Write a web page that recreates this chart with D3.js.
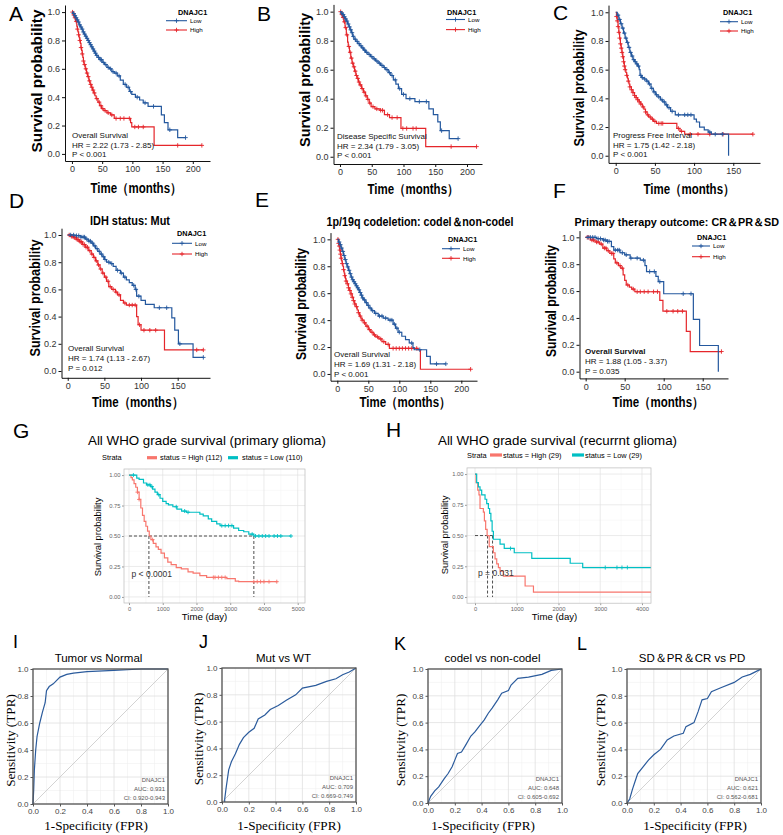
<!DOCTYPE html>
<html><head><meta charset="utf-8">
<script src="https://cdn.jsdelivr.net/npm/d3@7"></script>
<style>body{margin:0;background:#fff}svg{display:block}</style>
</head><body><script>
// ===================== DATA =====================
// Kaplan-Meier step curves: [time, survival]; censor times
const A_low=[[0,1],[2,0.99],[4,0.975],[6,0.96],[8,0.945],[10,0.93],[12,0.91],[14,0.895],[16,0.88],[18,0.86],[20,0.845],[22,0.83],[24,0.815],[26,0.8],[28,0.785],[30,0.77],[32,0.755],[34,0.74],[36,0.725],[38,0.71],[40,0.695],[43,0.68],[46,0.665],[50,0.645],[54,0.63],[58,0.61],[62,0.6],[66,0.58],[70,0.57],[75,0.55],[80,0.52],[85,0.49],[90,0.47],[95,0.44],[99,0.42],[105,0.4],[112,0.38],[118,0.36],[126,0.335],[148,0.275],[153,0.22],[159,0.17],[175,0.115],[188,0.115]];
const A_lowC=[3,5,7,9,11,13,15,17,19,21,23,25,27,29,31,33,35,37,39,41,44,47,49,52,56,60,64,68,73,78,88,93,97,108,121,135,162,188];
const A_high=[[0,1],[2,0.98],[4,0.96],[6,0.935],[8,0.9],[9,0.88],[10,0.86],[11,0.84],[12,0.82],[13,0.8],[14,0.78],[15,0.75],[16,0.73],[17,0.705],[18,0.68],[19,0.655],[20,0.63],[22,0.6],[24,0.57],[26,0.545],[28,0.515],[30,0.49],[32,0.47],[34,0.45],[36,0.43],[38,0.41],[40,0.39],[43,0.365],[46,0.34],[49,0.32],[53,0.305],[58,0.29],[64,0.275],[70,0.25],[97,0.22],[99,0.19],[136,0.06],[215,0.06]];
const A_highC=[1,3,5,7,9,11,13,15,17,19,21,23,25,27,29,31,33,35,37,41,45,48,51,55,60,66,73,80,86,95,104,110,118,175,215];

const B_low=[[0,1],[2,0.99],[4,0.98],[6,0.965],[8,0.95],[10,0.935],[12,0.915],[14,0.895],[16,0.875],[18,0.855],[20,0.83],[22,0.81],[25,0.795],[28,0.78],[31,0.765],[34,0.75],[37,0.735],[40,0.72],[44,0.705],[48,0.69],[52,0.675],[56,0.66],[60,0.645],[64,0.63],[68,0.615],[72,0.6],[76,0.58],[80,0.56],[84,0.53],[88,0.5],[92,0.47],[97,0.43],[104,0.4],[118,0.38],[140,0.33],[147,0.29],[154,0.24],[158,0.18],[172,0.125],[186,0.125]];
const B_lowC=[3,5,7,9,11,13,15,17,19,21,24,27,30,33,36,39,42,46,50,54,58,62,66,70,74,78,82,87,94,100,110,125,136,160,186];
const B_high=[[0,1],[2,0.98],[4,0.96],[6,0.93],[8,0.89],[10,0.84],[12,0.79],[13,0.76],[15,0.72],[17,0.68],[19,0.645],[21,0.62],[23,0.59],[25,0.56],[27,0.54],[29,0.515],[31,0.495],[34,0.47],[37,0.445],[40,0.42],[43,0.395],[46,0.37],[49,0.345],[55,0.33],[63,0.32],[70,0.29],[78,0.27],[96,0.195],[135,0.07],[215,0.07]];
const B_highC=[1,3,5,7,9,11,14,16,18,20,22,24,26,28,30,32,35,38,41,44,47,52,58,64,67,75,82,90,99,105,115,120,175,215];

const C_low=[[0,1],[2,0.98],[4,0.95],[6,0.92],[8,0.89],[10,0.855],[12,0.82],[14,0.79],[16,0.755],[18,0.72],[20,0.695],[22,0.67],[24,0.655],[26,0.64],[28,0.625],[30,0.6],[31,0.56],[33,0.545],[36,0.535],[39,0.52],[42,0.5],[45,0.47],[48,0.445],[51,0.425],[54,0.41],[57,0.39],[60,0.375],[63,0.355],[66,0.335],[70,0.31],[76,0.285],[100,0.255],[103,0.235],[107,0.2],[113,0.18],[118,0.165],[122,0.15],[144,0],[144,0]];
const C_lowC=[3,5,7,9,11,13,15,17,19,21,23,25,27,29,32,34,37,40,43,46,49,52,55,59,62,65,68,72,80,88,92,96,120,127,136];
const C_high=[[0,1],[1,0.97],[2,0.94],[3,0.9],[4,0.86],[5,0.82],[6,0.78],[7,0.75],[8,0.72],[9,0.69],[10,0.655],[11,0.625],[12,0.6],[13,0.58],[14,0.56],[15,0.54],[16,0.52],[17,0.5],[18,0.48],[20,0.46],[22,0.44],[24,0.42],[26,0.405],[28,0.39],[30,0.375],[32,0.36],[34,0.34],[36,0.325],[38,0.305],[40,0.285],[42,0.27],[45,0.255],[48,0.24],[52,0.225],[78,0.19],[82,0.17],[88,0.15],[175,0.15]];
const C_highC=[1,2,3,4,5,6,7,8,9,10,11,12,14,16,18,20,22,24,26,28,30,32,35,38,41,44,47,50,55,58,60,80,84,95,105,120,137,175];

const D_low=[[0,1],[10,0.995],[18,0.985],[24,0.97],[28,0.955],[32,0.94],[35,0.92],[38,0.9],[41,0.88],[44,0.86],[47,0.84],[50,0.82],[53,0.8],[58,0.79],[62,0.77],[66,0.74],[72,0.72],[76,0.69],[80,0.67],[84,0.65],[88,0.63],[92,0.6],[94,0.55],[100,0.52],[106,0.49],[118,0.465],[142,0.39],[146,0.3],[151,0.2],[171,0.1],[185,0.1]];
const D_lowC=[4,8,12,15,18,21,23,26,29,31,34,37,40,43,46,49,51,56,60,68,73,78,90,93,97,125,135,153,185];
const D_high=[[0,1],[4,0.99],[8,0.98],[12,0.965],[16,0.95],[20,0.93],[24,0.91],[28,0.885],[32,0.86],[35,0.835],[38,0.81],[41,0.78],[44,0.75],[47,0.72],[50,0.69],[53,0.66],[56,0.62],[60,0.6],[65,0.58],[68,0.56],[72,0.52],[76,0.5],[80,0.485],[94,0.4],[96,0.34],[100,0.3],[132,0.155],[185,0.155]];
const D_highC=[2,5,7,9,11,13,15,17,19,21,23,25,27,30,33,36,39,42,45,48,52,55,58,62,66,70,78,84,88,92,98,104,112,120,176,185];

const E_low=[[0,1],[2,0.98],[4,0.96],[6,0.935],[8,0.91],[10,0.88],[12,0.85],[14,0.82],[16,0.795],[18,0.77],[20,0.745],[22,0.72],[24,0.7],[26,0.685],[28,0.67],[30,0.655],[32,0.64],[34,0.625],[36,0.605],[38,0.585],[40,0.565],[42,0.55],[45,0.53],[48,0.51],[51,0.49],[55,0.47],[60,0.45],[66,0.43],[74,0.415],[82,0.4],[90,0.37],[94,0.34],[98,0.31],[104,0.28],[110,0.255],[116,0.23],[122,0.195],[124,0.18],[144,0.13],[150,0.075],[175,0.075]];
const E_lowC=[3,5,7,9,11,13,15,17,19,21,23,25,27,29,31,33,35,37,39,41,44,47,50,53,57,62,68,72,78,85,88,92,96,100,120,133,160,175];
const E_high=[[0,1],[2,0.97],[3,0.95],[4,0.92],[5,0.89],[6,0.86],[7,0.84],[8,0.82],[9,0.8],[10,0.775],[11,0.75],[12,0.73],[13,0.71],[14,0.69],[16,0.67],[18,0.64],[20,0.62],[22,0.595],[24,0.57],[26,0.545],[28,0.52],[30,0.5],[32,0.475],[34,0.455],[36,0.43],[38,0.415],[40,0.4],[43,0.38],[46,0.355],[50,0.33],[54,0.31],[58,0.29],[62,0.275],[67,0.26],[72,0.24],[78,0.22],[84,0.19],[130,0.18],[134,0.035],[215,0.035]];
const E_highC=[1,2,3,4,5,6,8,10,12,14,16,18,20,22,24,26,28,31,34,37,40,44,48,52,56,60,65,70,75,82,90,95,100,105,110,115,120,128,215];

const F_low=[[0,1],[14,0.99],[22,0.98],[27,0.97],[33,0.93],[36,0.905],[44,0.885],[50,0.87],[57,0.845],[70,0.83],[76,0.79],[78,0.745],[90,0.71],[93,0.67],[100,0.58],[138,0.39],[146,0.195],[170,0],[170,0]];
const F_lowC=[3,6,9,12,16,19,23,25,28,30,38,41,43,47,52,58,66,74,82,88,95,125,135];
const F_high=[[0,1],[6,0.98],[12,0.965],[18,0.95],[22,0.92],[27,0.9],[31,0.88],[36,0.84],[38,0.81],[42,0.79],[45,0.77],[48,0.72],[50,0.68],[52,0.645],[56,0.63],[59,0.615],[63,0.595],[95,0.53],[99,0.45],[129,0.3],[134,0.15],[174,0.15]];
const F_highC=[2,4,8,10,14,16,20,24,26,29,33,35,40,44,47,54,61,66,70,75,80,87,92,104,112,118,124,174];

// WHO grade survival (days)
const G_high=[[0,1],[60,0.98],[100,0.96],[150,0.93],[200,0.9],[250,0.86],[300,0.8],[350,0.73],[400,0.67],[450,0.62],[500,0.58],[550,0.54],[600,0.5],[650,0.47],[720,0.44],[800,0.41],[870,0.39],[950,0.36],[1050,0.32],[1150,0.285],[1250,0.265],[1400,0.24],[1550,0.23],[1750,0.205],[1900,0.195],[2100,0.175],[2300,0.16],[2900,0.15],[3150,0.13],[3250,0.125],[4400,0.125]];
const G_highC=[250,300,700,2500,2550,2650,2750,2850,3700,3800,3900,4000,4150,4380];
const G_low=[[0,1],[230,0.975],[300,0.965],[430,0.935],[520,0.92],[640,0.905],[700,0.885],[770,0.86],[840,0.84],[920,0.81],[1000,0.785],[1100,0.765],[1170,0.755],[1300,0.74],[1420,0.72],[1560,0.705],[1700,0.695],[2100,0.68],[2200,0.665],[2350,0.64],[2450,0.62],[2600,0.6],[2700,0.585],[3100,0.565],[3250,0.545],[3400,0.535],[3550,0.515],[3700,0.5],[4800,0.5]];
const G_lowC=[130,560,620,680,880,1400,1650,1750,2750,2850,2950,3050,3650,3750,3850,3950,4050,4150,4300,4400,4500,4800];
const G_medians=[590,3700];
const H_high=[[0,1],[25,0.93],[65,0.87],[95,0.83],[120,0.72],[200,0.69],[225,0.62],[255,0.55],[290,0.5],[340,0.41],[440,0.36],[480,0.31],[520,0.27],[560,0.24],[600,0.21],[680,0.17],[1200,0.09],[1400,0.04],[4300,0.04]];
const H_highC=[];
const H_low=[[0,1],[40,0.93],[80,0.895],[120,0.87],[160,0.83],[240,0.795],[280,0.76],[320,0.72],[350,0.68],[380,0.62],[410,0.535],[440,0.47],[600,0.43],[700,0.395],[940,0.36],[1360,0.315],[2280,0.275],[2580,0.24],[4300,0.24]];
const H_lowC=[850,3120,3400,3520,3650];
const H_medians=[300,420];

// ROC curves: [FPR, TPR]
const rocI=[[0,0],[0.005,0.1],[0.01,0.25],[0.02,0.4],[0.03,0.5],[0.05,0.6],[0.07,0.68],[0.09,0.75],[0.1,0.84],[0.12,0.87],[0.15,0.89],[0.2,0.94],[0.25,0.96],[0.3,0.97],[0.4,0.98],[0.6,0.99],[0.8,1.0],[1,1]];
const rocJ=[[0.02,0],[0.02,0.02],[0.03,0.1],[0.04,0.17],[0.05,0.24],[0.07,0.3],[0.1,0.36],[0.13,0.43],[0.16,0.48],[0.2,0.52],[0.24,0.55],[0.27,0.62],[0.32,0.65],[0.36,0.69],[0.42,0.72],[0.48,0.76],[0.55,0.8],[0.6,0.85],[0.7,0.87],[0.78,0.9],[0.85,0.92],[0.9,0.95],[0.95,0.97],[1,1]];
const rocK=[[0,0],[0.02,0.05],[0.05,0.09],[0.08,0.12],[0.12,0.18],[0.15,0.22],[0.18,0.27],[0.2,0.32],[0.22,0.37],[0.25,0.38],[0.28,0.43],[0.32,0.5],[0.35,0.53],[0.38,0.57],[0.42,0.62],[0.45,0.67],[0.48,0.71],[0.52,0.77],[0.55,0.82],[0.6,0.84],[0.62,0.88],[0.67,0.93],[0.75,0.94],[0.85,0.96],[0.92,0.99],[1,1]];
const rocL=[[0,0],[0.02,0.03],[0.04,0.1],[0.06,0.16],[0.08,0.22],[0.12,0.27],[0.16,0.32],[0.2,0.36],[0.25,0.4],[0.3,0.47],[0.35,0.5],[0.42,0.52],[0.44,0.57],[0.5,0.6],[0.53,0.68],[0.56,0.77],[0.6,0.78],[0.63,0.83],[0.7,0.86],[0.8,0.9],[0.86,0.94],[0.92,0.96],[0.98,0.99],[1,1]];

// Tick labels / text
const kmYTicks=[0,0.2,0.4,0.6,0.8,1.0];
const groupLabels=["Low","High"];
const rocTicks=[0,0.2,0.4,0.6,0.8,1.0];

// ===================== DRAW =====================
const SANS='"Liberation Sans", Arial, Helvetica, sans-serif';
const SERIF='"Liberation Serif", "Times New Roman", serif';
const BLUE="#24589e", RED="#e5262b", SAL="#F8766D", TEAL="#00BFC4";
const svg=d3.select("body").append("svg").attr("width",783).attr("height",835).style("font-family",SANS);
let clipId=0;

function stepAt(curve,t){let s=curve[0][1];for(const p of curve){if(p[0]<=t)s=p[1];else break;}return s;}
function txt(g,x,y,s,o={}){const t=g.append("text").attr("x",x).attr("y",y).text(s).attr("font-size",o.size||10).attr("fill",o.fill||"#000");
  if(o.anchor)t.attr("text-anchor",o.anchor); if(o.weight)t.attr("font-weight",o.weight); if(o.family)t.attr("font-family",o.family);
  if(o.len)t.attr("textLength",o.len).attr("lengthAdjust","spacingAndGlyphs"); if(o.rot)t.attr("transform",`rotate(-90,${x},${y})`); return t;}
function cross(g,x,y,r,col,w){g.append("path").attr("d",`M${x-r},${y}h${2*r}M${x},${y-r}v${2*r}`).attr("stroke",col).attr("stroke-width",w||1).attr("fill","none");}

function drawKM(c){
  const g=svg.append("g");
  const x=d3.scaleLinear().domain(c.xDom).range([c.l,c.r]);
  const y=d3.scaleLinear().domain([-0.05,1.05]).range([c.b,c.t]);
  const xa=g.append("g").attr("transform",`translate(0,${c.b})`).call(d3.axisBottom(x).tickValues(c.xTicks).tickSize(3).tickPadding(2).tickSizeOuter(0));
  const ya=g.append("g").attr("transform",`translate(${c.l},0)`).call(d3.axisLeft(y).tickValues(kmYTicks).tickFormat(d3.format(".1f")).tickSize(3).tickPadding(2).tickSizeOuter(0));
  [xa,ya].forEach(a=>{a.select(".domain").attr("stroke","#111").attr("stroke-width",1);a.selectAll(".tick line").attr("stroke","#111");
    a.selectAll("text").attr("font-size",9).attr("fill","#333").attr("font-family",SANS);});
  const line=d3.line().x(d=>x(d[0])).y(d=>y(d[1])).curve(d3.curveStepAfter);
  [[c.high,c.highC,RED],[c.low,c.lowC,BLUE]].forEach(([cv,cc,col])=>{
    g.append("path").datum(cv).attr("d",line).attr("fill","none").attr("stroke",col).attr("stroke-width",1.2);
    cc.forEach(t=>cross(g,x(t),y(stepAt(cv,t)),2.2,col,0.9));
  });
  // legend
  const L=c.leg;
  txt(g,L.tx,L.ty+2.6,"DNAJC1",{size:7.3,weight:"bold"});
  [[L.y1,BLUE,groupLabels[0]],[L.y2,RED,groupLabels[1]]].forEach(([yy,col,lab])=>{
    g.append("line").attr("x1",L.lx).attr("x2",L.lx+L.lw).attr("y1",yy).attr("y2",yy).attr("stroke",col).attr("stroke-width",1.1);
    cross(g,L.lx+L.lw/2,yy,2.2,col,0.9);
    txt(g,L.lx+L.lw+3,yy+2.2,lab,{size:6.2});
  });
  // annotations
  c.ann.forEach((s,i)=>txt(g,c.ax,c.ay+i*c.adh,s,{size:8,fill:"#111",weight:(i===0&&c.annBold)?"bold":null}));
  // axis titles
  txt(g,c.xt[0],c.xt[1],"Time（months）",{size:14,weight:"bold",anchor:"middle",len:c.xt[2]});
  txt(g,c.yt[0],c.yt[1],"Survival probability",{size:14,weight:"bold",anchor:"middle",len:c.yt[2],rot:true});
  if(c.title) txt(g,c.title[1],c.title[2],c.title[0],{size:c.title[5]||12,weight:"bold",anchor:c.title[4]||"middle",len:c.title[3]});
  txt(svg,c.letter[1],c.letter[2],c.letter[0],{size:21});
}

drawKM({low:A_low,lowC:A_lowC,high:A_high,highC:A_highC,l:65,r:210,t:5,b:161,xDom:[-11.5,228.5],xTicks:[0,50,100,150,200],
  leg:{tx:178,ty:12,lx:166,lw:21,y1:20.7,y2:30},ann:["Overall Survival","HR = 2.22 (1.73 - 2.85)","P < 0.001"],ax:72,ay:138,adh:9.7,
  xt:[136,193,91],yt:[42,81,143],letter:["A",9,21]});
drawKM({low:B_low,lowC:B_lowC,high:B_high,highC:B_highC,l:333.5,r:482,t:4.4,b:164,xDom:[-10.2,223.6],xTicks:[0,50,100,150,200],
  leg:{tx:447,ty:12,lx:446,lw:19,y1:19.5,y2:29.6},ann:["Disease Specific Survival","HR = 2.34 (1.79 - 3.05)","P < 0.001"],ax:337,ay:139,adh:9.7,
  xt:[413,194,91],yt:[310,80,134],letter:["B",257,21]});
drawKM({low:C_low,lowC:C_lowC,high:C_high,highC:C_highC,l:608.5,r:760,t:5.1,b:162.9,xDom:[-9.2,184.1],xTicks:[0,50,100,150],
  leg:{tx:723,ty:12.3,lx:720,lw:18,y1:21.7,y2:31},ann:["Progress Free Interval","HR = 1.75 (1.42 - 2.18)","P < 0.001"],ax:613,ay:138,adh:9.7,
  xt:[689,194,91],yt:[584,88,117],letter:["C",553,20]});
drawKM({low:D_low,lowC:D_lowC,high:D_high,highC:D_highC,l:61.5,r:210,t:228.2,b:377.8,xDom:[-8.5,194.1],xTicks:[0,50,100,150],
  leg:{tx:177,ty:233,lx:172,lw:20,y1:243.3,y2:254},ann:["Overall Survival","HR = 1.74 (1.13 - 2.67)","P = 0.012"],ax:68,ay:351,adh:10,
  xt:[137.5,407,91],yt:[40,298,117],title:["IDH status: Mut",130,225,80],letter:["D",9,208]});
drawKM({low:E_low,lowC:E_lowC,high:E_high,highC:E_highC,l:330.5,r:477,t:232.6,b:380.7,xDom:[-11,225.3],xTicks:[0,50,100,150,200],
  leg:{tx:448,ty:239,lx:442,lw:18,y1:248.7,y2:258.3},ann:["Overall Survival","HR = 1.69 (1.31 - 2.18)","P < 0.001"],ax:334,ay:357,adh:9.8,
  xt:[405,407,91],yt:[306,304,112],title:["1p/19q codeletion: codel＆non-codel",420,226,187],letter:["E",255,207]});
drawKM({low:F_low,lowC:F_lowC,high:F_high,highC:F_highC,l:579.5,r:728,t:230.6,b:378.4,xDom:[-7.9,182.4],xTicks:[0,50,100,150],
  leg:{tx:697,ty:237.7,lx:692,lw:18,y1:246,y2:256.7},ann:["Overall Survival","HR = 1.88 (1.05 - 3.37)","P = 0.035"],ax:585,ay:354,adh:10,annBold:true,
  xt:[658,407,91],yt:[556,301,112],title:["Primary therapy outcome: CR＆PR＆SD",779,226,null,"end",10.8],letter:["F",553,198]});

function drawWHO(c){
  const g=svg.append("g");
  const x=d3.scaleLinear().domain(c.xDom).range([c.l,c.r]);
  const y=d3.scaleLinear().domain([-0.05,1.05]).range([c.b,c.t]);
  const id="clip"+(clipId++);
  svg.append("clipPath").attr("id",id).append("rect").attr("x",c.l).attr("y",c.t).attr("width",c.r-c.l).attr("height",c.b-c.t);
  const gridMinX=d3.range(500,c.xMax,1000), gridMajX=d3.range(0,c.xMax+1,1000);
  const yMaj=[0,0.25,0.5,0.75,1], yMin=[0.125,0.375,0.625,0.875];
  const gg=g.append("g").attr("clip-path",`url(#${id})`);
  gridMinX.forEach(v=>gg.append("line").attr("x1",x(v)).attr("x2",x(v)).attr("y1",c.t).attr("y2",c.b).attr("stroke","#f2f2f2").attr("stroke-width",0.5));
  yMin.forEach(v=>gg.append("line").attr("x1",c.l).attr("x2",c.r).attr("y1",y(v)).attr("y2",y(v)).attr("stroke","#f2f2f2").attr("stroke-width",0.5));
  gridMajX.forEach(v=>gg.append("line").attr("x1",x(v)).attr("x2",x(v)).attr("y1",c.t).attr("y2",c.b).attr("stroke","#e3e3e3").attr("stroke-width",0.7));
  yMaj.forEach(v=>gg.append("line").attr("x1",c.l).attr("x2",c.r).attr("y1",y(v)).attr("y2",y(v)).attr("stroke","#e3e3e3").attr("stroke-width",0.7));
  const xa=g.append("g").attr("transform",`translate(0,${c.b})`).call(d3.axisBottom(x).tickValues(gridMajX).tickFormat(d3.format("d")).tickSize(2).tickPadding(1.5).tickSizeOuter(0));
  const ya=g.append("g").attr("transform",`translate(${c.l},0)`).call(d3.axisLeft(y).tickValues(yMaj).tickFormat(d3.format(".2f")).tickSize(2).tickPadding(1.5).tickSizeOuter(0));
  [xa,ya].forEach(a=>{a.select(".domain").remove();a.selectAll(".tick line").attr("stroke","#999");
    a.selectAll("text").attr("font-size",5.8).attr("fill","#666").attr("font-family",SANS);});
  const line=d3.line().x(d=>x(d[0])).y(d=>y(d[1])).curve(d3.curveStepAfter);
  // median lines
  const mx=d3.max(c.med);
  gg.append("line").attr("x1",x(0)).attr("x2",x(mx)).attr("y1",y(0.5)).attr("y2",y(0.5)).attr("stroke","#222").attr("stroke-width",0.8).attr("stroke-dasharray","3,2");
  c.med.forEach(m=>gg.append("line").attr("x1",x(m)).attr("x2",x(m)).attr("y1",y(0.5)).attr("y2",y(0)).attr("stroke","#222").attr("stroke-width",0.8).attr("stroke-dasharray","3,2"));
  [[c.high,c.highC,SAL],[c.low,c.lowC,TEAL]].forEach(([cv,cc,col])=>{
    gg.append("path").datum(cv).attr("d",line).attr("fill","none").attr("stroke",col).attr("stroke-width",1.2);
    cc.forEach(t=>cross(gg,x(t),y(stepAt(cv,t)),2,col,0.9));
  });
  g.append("rect").attr("x",c.l).attr("y",c.t).attr("width",c.r-c.l).attr("height",c.b-c.t).attr("fill","none").attr("stroke","#bbb").attr("stroke-width",0.7);
  txt(g,c.p[1],c.p[2],c.p[0],{size:8.5,fill:"#333"});
  txt(g,c.xt[0],c.xt[1],"Time (day)",{size:9.6,anchor:"middle"});
  txt(g,c.yt[0],c.yt[1],"Survival probability",{size:9.4,anchor:"middle",rot:true});
  txt(g,c.title[1],c.title[2],c.title[0],{size:13.4,anchor:"middle",len:c.title[3]});
  const L=c.leg;
  txt(g,L.sx,L.y+2.6,"Strata",{size:7.4});
  g.append("rect").attr("x",L.k1).attr("y",L.y-1.6).attr("width",L.kw).attr("height",3.2).attr("fill",SAL);
  txt(g,L.t1,L.y+2.6,L.lab1,{size:7.4});
  g.append("rect").attr("x",L.k2).attr("y",L.y-1.6).attr("width",L.kw).attr("height",3.2).attr("fill",TEAL);
  txt(g,L.t2,L.y+2.6,L.lab2,{size:7.4});
  txt(svg,c.letter[1],c.letter[2],c.letter[0],{size:21});
}
drawWHO({high:G_high,highC:G_highC,low:G_low,lowC:G_lowC,med:G_medians,l:124,r:305,t:469,b:603,xDom:[-148,5216],xMax:5000,
  p:["p < 0.0001",131.5,577],xt:[204.5,620],yt:[101,537],title:["All WHO grade survival (primary glioma)",207,445,238],
  leg:{sx:102,y:457.7,k1:147,kw:10,t1:160,lab1:"status = High (112)",k2:228,t2:242,lab2:"status = Low (110)"},letter:["G",13,438]});
drawWHO({high:H_high,highC:H_highC,low:H_low,lowC:H_lowC,med:H_medians,l:467,r:651,t:467.9,b:603.2,xDom:[-192,4216],xMax:4000,
  p:["p = 0.031",478,576],xt:[554.5,620],yt:[448,535],title:["All WHO grade survival (recurrnt glioma)",557.5,445,239],
  leg:{sx:467,y:455,k1:490,kw:12,t1:503,lab1:"status = High (29)",k2:572,t2:585,lab2:"status = Low (29)"},letter:["H",386,437]});

function drawROC(c){
  const g=svg.append("g");
  const x=d3.scaleLinear().domain([0,1]).range([c.l,c.r]);
  const y=d3.scaleLinear().domain([0,1]).range([c.b,c.t]);
  d3.range(0.1,1,0.2).forEach(v=>{
    g.append("line").attr("x1",x(v)).attr("x2",x(v)).attr("y1",c.t).attr("y2",c.b).attr("stroke","#f0f0f0").attr("stroke-width",0.6);
    g.append("line").attr("x1",c.l).attr("x2",c.r).attr("y1",y(v)).attr("y2",y(v)).attr("stroke","#f0f0f0").attr("stroke-width",0.6);});
  rocTicks.forEach(v=>{
    g.append("line").attr("x1",x(v)).attr("x2",x(v)).attr("y1",c.t).attr("y2",c.b).attr("stroke","#e0e0e0").attr("stroke-width",0.8);
    g.append("line").attr("x1",c.l).attr("x2",c.r).attr("y1",y(v)).attr("y2",y(v)).attr("stroke","#e0e0e0").attr("stroke-width",0.8);});
  const xa=g.append("g").attr("transform",`translate(0,${c.b})`).call(d3.axisBottom(x).tickValues(rocTicks).tickFormat(d3.format(".1f")).tickSize(2.5).tickPadding(2).tickSizeOuter(0));
  const ya=g.append("g").attr("transform",`translate(${c.l},0)`).call(d3.axisLeft(y).tickValues(rocTicks).tickFormat(d3.format(".1f")).tickSize(2.5).tickPadding(2).tickSizeOuter(0));
  [xa,ya].forEach(a=>{a.select(".domain").remove();a.selectAll(".tick line").attr("stroke","#555");
    a.selectAll("text").attr("font-size",8).attr("fill","#444").attr("font-family",SANS);});
  g.append("line").attr("x1",x(0)).attr("y1",y(0)).attr("x2",x(1)).attr("y2",y(1)).attr("stroke","#c8c8c8").attr("stroke-width",0.8);
  g.append("path").datum(c.data).attr("d",d3.line().x(d=>x(d[0])).y(d=>y(d[1]))).attr("fill","none").attr("stroke","#2b5b9c").attr("stroke-width",1.2);
  g.append("rect").attr("x",c.l).attr("y",c.t).attr("width",c.r-c.l).attr("height",c.b-c.t).attr("fill","none").attr("stroke","#555").attr("stroke-width",1.3);
  c.leg.forEach((s,i)=>txt(g,c.r-3,c.b-22+i*9,s,{size:6,fill:"#555",anchor:"end"}));
  txt(g,c.title[1],662,c.title[0],{size:11.5,anchor:"middle"});
  txt(g,c.xt,830,"1-Specificity (FPR)",{size:13.2,family:SERIF,anchor:"middle"});
  txt(g,c.yt,(c.t+c.b)/2+4,"Sensitivity (TPR)",{size:13.2,family:SERIF,anchor:"middle",rot:true});
  txt(svg,c.letter[1],c.letter[2],c.letter[0],{size:18});
}
drawROC({data:rocI,l:33,r:168,t:669,b:804,leg:["DNAJC1","AUC: 0.931","CI: 0.920-0.943"],title:["Tumor vs Normal",98.5],xt:96,yt:15,letter:["I",13,648]});
drawROC({data:rocJ,l:222,r:356,t:668,b:802,leg:["DNAJC1","AUC: 0.709","CI: 0.669-0.749"],title:["Mut vs WT",283.5],xt:289,yt:203,letter:["J",199,648]});
drawROC({data:rocK,l:428,r:562,t:669,b:803,leg:["DNAJC1","AUC: 0.648","CI: 0.605-0.692"],title:["codel vs non-codel",492.5],xt:483,yt:405,letter:["K",394,650]});
drawROC({data:rocL,l:627,r:761,t:669,b:803,leg:["DNAJC1","AUC: 0.621","CI: 0.562-0.681"],title:["SD＆PR＆CR vs PD",692],xt:695,yt:605,letter:["L",577,650]});
</script></body></html>
